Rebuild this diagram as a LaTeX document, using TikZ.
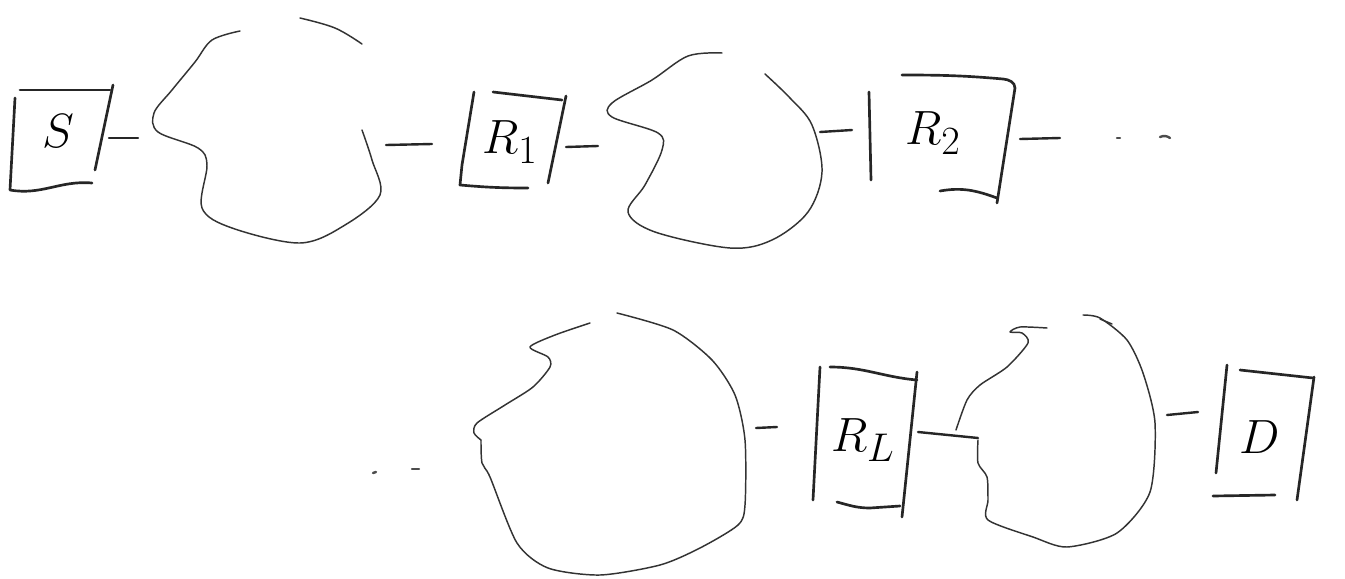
\documentclass[tikz,border=0pt]{standalone}
\usetikzlibrary{calc}
\newcommand{\biglbl}[1]{\scalebox{1.45}{\Huge$#1$}}
\begin{document}
\begin{tikzpicture}[x=0.75pt,y=-0.75pt,
  boxline/.style={line width=2pt,line cap=round,line join=round,black!85},
  blobline/.style={line width=1.1pt,line cap=round,line join=round,black!80},
  conn/.style={line width=1.8pt,line cap=round,black!85},
  lbl/.style={inner sep=0pt},
  dotmark/.style={line width=1.8pt,line cap=round,black!70}]
\useasboundingbox[fill=white] (0,0) rectangle (1345,578);

% ---------- labels (nodes) ----------
\node[lbl] (S)  at (58,131)  {\biglbl{S}};
\node[lbl] (R1) at (510,142) {\biglbl{R_1}};
\node[lbl] (R2) at (933,133) {\biglbl{R_2}};
\node[lbl] (RL) at (863,440) {\biglbl{R_L}};
\node[lbl] (D)  at (1260,437) {\biglbl{D}};

% ---------- hand-drawn boxes ----------
% S
\draw[boxline] (15,98) -- (10,190) to[out=-10,in=175] (92,183);
\draw[boxline] (20,90) -- (110,90);
\draw[boxline] (113,85) -- (95,170);
% R1
\draw[boxline] (474,92) -- (462,165) -- (460,185) to[out=-5,in=180] (528,188);
\draw[boxline] (493,92) -- (562,100);
\draw[boxline] (566,96) -- (548,183);
% R2
\draw[boxline] (869,92) -- (871,180);
\draw[boxline] (902,75) to[out=0,in=175] (1003,79) to[out=-5,in=90] (1015,88);
\draw[boxline] (1015,88) -- (997,203);
\draw[boxline] (940,191) to[out=10,in=160] (997,198);
% RL
\draw[boxline] (820,367) -- (813,500);
\draw[boxline] (830,367) to[out=0,in=175] (917,380);
\draw[boxline] (917,372) -- (902,517);
\draw[boxline] (837,502) to[out=-15,in=180] (870,508) -- (900,506);
% D
\draw[boxline] (1227,365) -- (1216,473);
\draw[boxline] (1240,370) -- (1313,378);
\draw[boxline] (1314,377) -- (1297,500);
\draw[boxline] (1213,496) -- (1275,495);

% ---------- blobs ----------
% blob 1
\draw[blobline] plot[smooth,tension=0.55] coordinates {
 (240,31) (212,40) (195,62) (172,90) (154,113) (158,132) (198,148)
 (207,165) (202,208) (232,228) (300,243) (345,225) (380,195) (372,160) (362,130)};
\draw[blobline] plot[smooth,tension=0.6] coordinates {(300,18) (335,28) (362,44)};
% blob 2
\draw[blobline] plot[smooth,tension=0.55] coordinates {
 (722,53) (688,56) (652,80) (612,103) (612,117) (658,133) (662,150) (645,185)
 (628,212) (655,232) (730,248) (772,240) (808,212) (822,172) (812,125) (790,98) (765,74)};
% blob 3
\draw[blobline] plot[smooth,tension=0.45] coordinates {
 (590,323) (555,335) (530,347) (548,357) (550,367) (533,387) (505,405) (477,423) (474,433) (481,440)};
\draw[blobline] plot[smooth,tension=0.45] coordinates {
 (481,440) (482,463) (490,477) (517,543) (548,568) (600,575) (660,565) (700,548) (738,525) (745,505)
 (745,440) (735,395) (712,360) (673,330) (617,313)};
% blob 4
\draw[blobline] plot[smooth,tension=0.45] coordinates {
 (1047,328) (1020,327) (1010,332) (1022,333) (1028,343) (1007,367) (980,385) (967,400) (956,430)};
\draw[blobline] plot[smooth,tension=0.45] coordinates {
 (978,440) (978,463) (987,477) (988,500) (988,520) (1033,537) (1067,547) (1117,533)
 (1150,492) (1155,423) (1143,373) (1127,340) (1100,318) (1083,315)};
\draw[blobline] (1100,319) -- (1112,324);

% ---------- connectors ----------
\coordinate (cS1) at (109,138);  \coordinate (cS2) at (138,138);
\coordinate (cA1) at (386,145);  \coordinate (cA2) at (432,144);
\coordinate (cB1) at (566,147);  \coordinate (cB2) at (598,146);
\coordinate (cC1) at (820,132);  \coordinate (cC2) at (852,130);
\coordinate (cD1) at (1020,139); \coordinate (cD2) at (1060,138);
\coordinate (cE1) at (756,428);  \coordinate (cE2) at (777,427);
\coordinate (cF1) at (918,432);  \coordinate (cF2) at (978,438);
\coordinate (cG1) at (1167,415); \coordinate (cG2) at (1198,412);

\draw[conn] (cS1) -- (cS2);
\draw[conn] (cA1) -- (cA2);
\draw[conn] (cB1) -- (cB2);
\draw[conn] (cC1) -- (cC2);
\draw[conn] (cD1) -- (cD2);
\draw[conn] (cE1) -- (cE2);
\draw[conn] (cF1) -- (cF2);
\draw[conn] (cG1) -- (cG2);

% ---------- continuation dots ----------
\coordinate (d1) at (1117,138); \coordinate (d2) at (1160,137);
\coordinate (d3) at (373,473);  \coordinate (d4) at (412,469);
\draw[dotmark] (d1) -- ++(3,0);
\draw[dotmark] (d2) to[bend left=30] ++(10,1);
\draw[dotmark] (d3) -- ++(3,-1);
\draw[dotmark] (d4) -- ++(7,0);
\end{tikzpicture}
\end{document}
